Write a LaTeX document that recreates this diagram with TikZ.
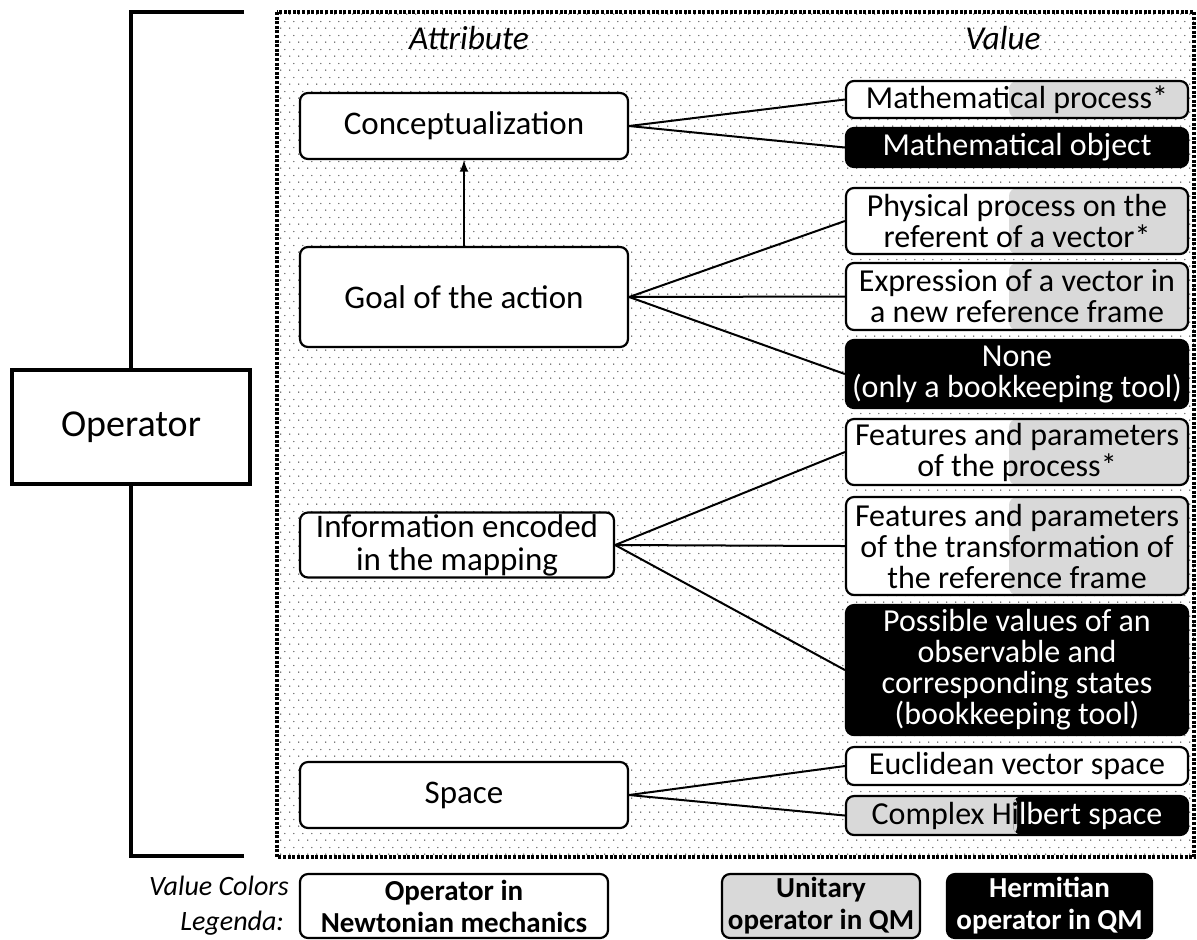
\documentclass[tikz,border=0pt]{standalone}
\usepackage{fontspec}
\setmainfont{Carlito}
\usetikzlibrary{patterns}
\definecolor{qmgray}{HTML}{D9D9D9}
\pgfdeclarepatternformonly{sparsedots}{\pgfqpoint{0pt}{0pt}}{\pgfqpoint{4.5pt}{7pt}}{\pgfqpoint{4.5pt}{7pt}}{%
  \pgfpathcircle{\pgfqpoint{1pt}{1pt}}{0.38pt}%
  \pgfpathcircle{\pgfqpoint{3.25pt}{4.5pt}}{0.38pt}%
  \pgfusepath{fill}}
\newlength\hiwd
\newlength\hilwd
\begin{document}
\begin{tikzpicture}[x=0.5pt,y=-0.5pt]
    \tikzstyle{attr} = [draw, rounded corners=4pt, line width=1.1pt, fill=white, align=center, inner sep=0pt, minimum width=164pt, font=\fontsize{16.5}{16.5}\selectfont]
    \tikzstyle{val} = [draw, rounded corners=4pt, line width=1.1pt, fill=white, align=center, inner sep=0pt, minimum width=171pt, font=\fontsize{16}{15.5}\selectfont]
    \tikzstyle{dark} = [val, fill=black, text=white]
    \tikzstyle{half} = [val, path picture={\fill[qmgray] (cutgray |- path picture bounding box.north) rectangle (path picture bounding box.south east);}]
    \tikzstyle{leg} = [draw, rounded corners=4pt, line width=1.1pt, align=center, inner sep=0pt, minimum height=32pt, font=\fontsize{14.5}{16}\selectfont\bfseries]
    \tikzstyle{head} = [font=\fontsize{16.7}{16.7}\selectfont\itshape]
    \tikzstyle{conn} = [line width=1pt]
        \useasboundingbox (0,0) rectangle (1197,939);
        % dotted frame
        \draw[line width=1.8pt, dash pattern=on 1.5pt off 0.8pt, pattern=sparsedots, pattern color=black!70] (277,12) rectangle (1194,857);
        \coordinate (cutgray) at (1009,0);
        % headers
        \node[head] (hattr) at (469,38) {Attribute};
        \node[head] (hval) at (1003,38) {Value};
        % operator and bracket
        \node[draw, line width=1.8pt, minimum width=119pt, minimum height=57pt, inner sep=0pt, font=\fontsize{19}{19}\selectfont] (op) at (131,427) {Operator};
        \coordinate (btop) at (244,12);
        \coordinate (bbot) at (244,856);
        \draw[line width=1.6pt] (btop) -| (op.north);
        \draw[line width=1.6pt] (bbot) -| (op.south);
        % attributes
        \node[attr, minimum height=33pt] (concept) at (464,126) {Conceptualization};
        \node[attr, minimum height=50pt] (goal) at (464,297) {Goal of the action};
        \node[attr, minimum width=157pt, minimum height=32.5pt] (info) at (457,545) {Information encoded\\in the mapping};
        \node[attr, minimum height=33pt] (space) at (464,795) {Space};
        \draw[-latex, conn] (goal) -- (concept);
        % values: conceptualization
        \node[half, minimum height=18.5pt] (mproc) at (1017,99.5) {Mathematical process*};
        \node[dark, minimum height=19.5pt] (mobj) at (1017,147.5) {Mathematical object};
        \draw[conn] (concept.east) -- (mproc.west);
        \draw[conn] (concept.east) -- (mobj.west);
        % values: goal
        \node[half, minimum height=33pt] (phys) at (1017,221) {Physical process on the\\referent of a vector*};
        \node[half, minimum height=33.5pt] (expr) at (1017,296.5) {Expression of a vector in\\a new reference frame};
        \node[dark, minimum height=34pt] (none) at (1017,374) {None\\(only a bookkeeping tool)};
        \draw[conn] (goal.east) -- (phys.west);
        \draw[conn] (goal.east) -- (expr.west);
        \draw[conn] (goal.east) -- (none.west);
        % values: information
        \node[half, minimum height=33pt] (featp) at (1017,452) {Features and parameters\\of the process*};
        \node[half, minimum height=49pt] (featt) at (1017,546) {Features and parameters\\of the transformation of\\the reference frame};
        \node[dark, minimum height=65pt] (poss) at (1017,670) {Possible values of an\\observable and\\corresponding states\\(bookkeeping tool)};
        \draw[conn] (info.east) -- (featp.west);
        \draw[conn] (info.east) -- (featt.west);
        \draw[conn] (info.east) -- (poss.west);
        % values: space
        \settowidth{\hiwd}{\fontsize{16}{15.5}\selectfont Complex Hi}
        \settowidth{\hilwd}{\fontsize{16}{15.5}\selectfont Complex Hilbert space}
        \pgfmathsetlengthmacro{\hisplit}{\hiwd-0.5*\hilwd-1.8pt}
        \node[val, minimum height=19pt] (eucl) at (1017,766) {Euclidean vector space};
        \node[val, minimum height=19.5pt, path picture={\fill[qmgray] (path picture bounding box.north west) rectangle (path picture bounding box.south); \fill[black] ([xshift=\hisplit]path picture bounding box.north) rectangle (path picture bounding box.south east); \fill[qmgray] (path picture bounding box.north) rectangle ([xshift=\hisplit]path picture bounding box.south);}] (hilb) at (1017,815.5) {Complex Hi{\color{white}lbert space}};
        \draw[conn] (space.east) -- (eucl.west);
        \draw[conn] (space.east) -- (hilb.west);
        % legend
        \node[font=\fontsize{14}{14}\selectfont\itshape, anchor=east] (lcol) at (296,886) {Value Colors};
        \node[font=\fontsize{14}{14}\selectfont\itshape, anchor=east] (lleg) at (291,923) {Legenda:};
        \node[leg, fill=white, minimum width=154pt] (lnewt) at (454,906) {Operator in\\Newtonian mechanics};
        \node[leg, fill=qmgray, minimum width=99pt] (lunit) at (821,906) {Unitary\\operator in QM};
        \node[leg, fill=black, text=white, minimum width=102.5pt] (lherm) at (1049.5,906) {Hermitian\\operator in QM};
    \end{tikzpicture}
\end{document}
